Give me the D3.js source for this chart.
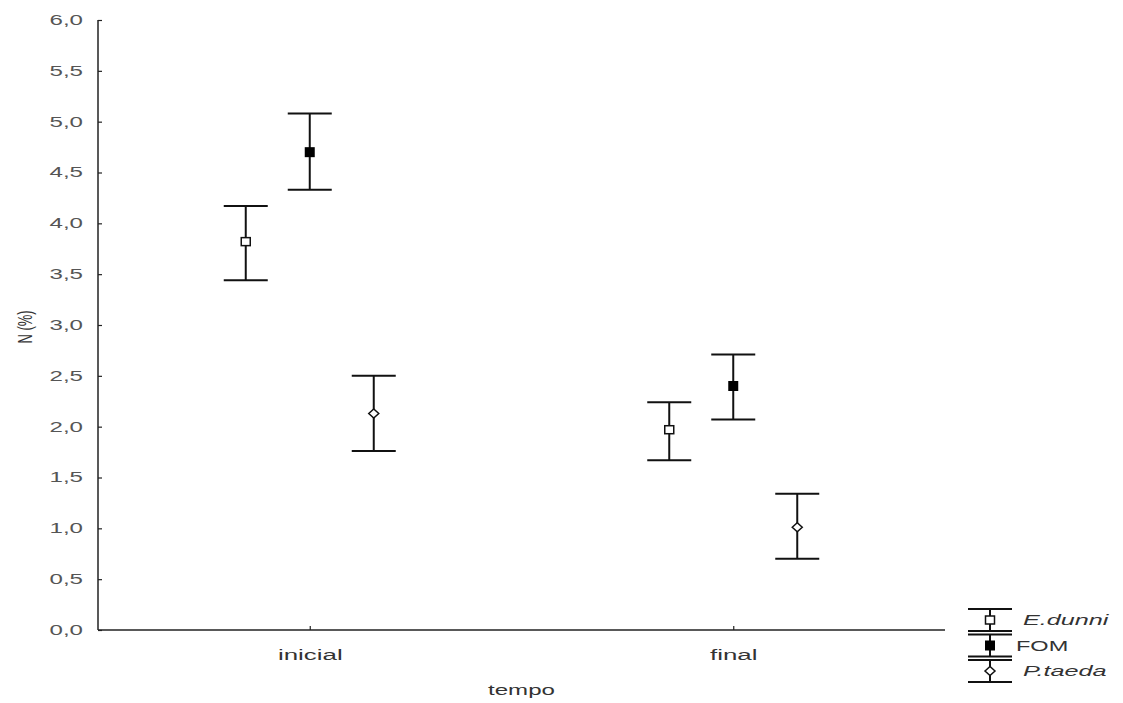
<!DOCTYPE html>
<html>
<head>
<meta charset="utf-8">
<script src="https://cdn.jsdelivr.net/npm/d3@7"></script>
<style>
  body { margin: 0; background: #fff; }
  text { font-family: "Liberation Sans", Arial, sans-serif; }
</style>
</head>
<body>
<div id="chart"></div>
<script>
// data
var tempos = ["inicial", "final"];
var especies = ["E.dunni", "FOM", "P.taeda"];
var media_ini = [3.82, 4.70, 2.13];
var media_fin = [1.97, 2.40, 1.01];
var sup_ini = [4.17, 5.08, 2.50];
var sup_fin = [2.24, 2.71, 1.34];
var inf_ini = [3.44, 4.33, 1.76];
var inf_fin = [1.67, 2.07, 0.70];
var y_ticks = [0, 0.5, 1, 1.5, 2, 2.5, 3, 3.5, 4, 4.5, 5, 5.5, 6];

var W = 1123, H = 703;
var m_left = 98, m_right = 945, m_top = 20, m_bottom = 630;

var svg = d3.select("#chart").append("svg").attr("width", W).attr("height", H);

var x = d3.scalePoint().domain(tempos).range([m_left, m_right]).padding(0.5);
var off = d3.scalePoint().domain(especies).range([-64, 64]);
var y = d3.scaleLinear().domain([0, 6]).range([m_bottom, m_top]);

var fmt = function(d) { return d3.format(".1f")(d).replace(".", ","); };

// the original text is stretched wide, mimic that
function stretch(sel, k) {
  sel.each(function() {
    var w = this.getComputedTextLength();
    d3.select(this).attr("textLength", w * k).attr("lengthAdjust", "spacingAndGlyphs");
  });
}

// y axis
var gy = svg.append("g").attr("transform", "translate(" + m_left + ",0)")
  .call(d3.axisRight(y).tickValues(y_ticks).tickSize(4).tickFormat(fmt));
gy.select(".domain").attr("stroke", "#222").attr("stroke-width", 1.5).attr("d", "M0," + m_top + "V" + m_bottom);
gy.selectAll(".tick line").attr("stroke", "#222").attr("stroke-width", 1.2);
gy.selectAll(".tick text").attr("x", -15).attr("text-anchor", "end")
  .style("font-size", "14px").attr("fill", "#555");
stretch(gy.selectAll(".tick text"), 1.72);

// x axis
var gx = svg.append("g").attr("transform", "translate(0," + m_bottom + ")")
  .call(d3.axisTop(x).tickSize(4));
gx.select(".domain").attr("stroke", "#222").attr("stroke-width", 1.5).attr("d", "M" + m_left + ",0H" + m_right);
gx.selectAll(".tick line").attr("stroke", "#222").attr("stroke-width", 1.2);
gx.selectAll(".tick text").attr("y", 30).attr("dy", 0)
  .style("font-size", "14px").attr("fill", "#333");
stretch(gx.selectAll(".tick text"), 1.85);

var xt = svg.append("text").attr("x", (m_left + m_right) / 2).attr("y", 695)
  .attr("text-anchor", "middle").style("font-size", "14px").attr("fill", "#333").text("tempo");
stretch(xt, 1.72);

svg.append("text").attr("transform", "translate(32,327) scale(1.6,1) rotate(-90)")
  .attr("text-anchor", "middle").style("font-size", "13px").attr("fill", "#333").text("N (%)");

// build rows
var rows = [];
tempos.forEach(function(t, i) {
  var m = i == 0 ? media_ini : media_fin;
  var s = i == 0 ? sup_ini : sup_fin;
  var n = i == 0 ? inf_ini : inf_fin;
  especies.forEach(function(e, j) {
    rows.push({tempo: t, esp: e, m: m[j], hi: s[j], lo: n[j]});
  });
});

function marker(g, esp) {
  if (esp == "E.dunni") {
    g.append("rect").attr("x", -4.5).attr("y", -4).attr("width", 9).attr("height", 8)
      .attr("fill", "#fff").attr("stroke", "#111").attr("stroke-width", 1.5);
  } else if (esp == "FOM") {
    g.append("rect").attr("x", -5).attr("y", -5).attr("width", 10).attr("height", 10)
      .attr("fill", "#000");
  } else {
    g.append("path").attr("d", "M-5,0L0,-4.5L5,0L0,4.5Z")
      .attr("fill", "#fff").attr("stroke", "#111").attr("stroke-width", 1.5);
  }
}

var cap = 22;
rows.forEach(function(d) {
  var cx = x(d.tempo) + off(d.esp);
  var g = svg.append("g");
  g.append("line").attr("x1", cx).attr("x2", cx).attr("y1", y(d.hi)).attr("y2", y(d.lo))
    .attr("stroke", "#111").attr("stroke-width", 2);
  g.append("line").attr("x1", cx - cap).attr("x2", cx + cap).attr("y1", y(d.hi)).attr("y2", y(d.hi))
    .attr("stroke", "#111").attr("stroke-width", 2);
  g.append("line").attr("x1", cx - cap).attr("x2", cx + cap).attr("y1", y(d.lo)).attr("y2", y(d.lo))
    .attr("stroke", "#111").attr("stroke-width", 2);
  var mk = g.append("g").attr("transform", "translate(" + cx + "," + y(d.m) + ")");
  marker(mk, d.esp);
});

// legend
var leg = svg.append("g").attr("transform", "translate(990,609)");
especies.forEach(function(e, j) {
  var gy0 = j * 25.5;
  var g = leg.append("g").attr("transform", "translate(0," + gy0 + ")");
  g.append("line").attr("x1", 0).attr("x2", 0).attr("y1", 0).attr("y2", 22).attr("stroke", "#111").attr("stroke-width", 2);
  g.append("line").attr("x1", -22).attr("x2", 22).attr("y1", 0).attr("y2", 0).attr("stroke", "#111").attr("stroke-width", 2);
  g.append("line").attr("x1", -22).attr("x2", 22).attr("y1", 22).attr("y2", 22).attr("stroke", "#111").attr("stroke-width", 2);
  var mk = g.append("g").attr("transform", "translate(0,11)");
  marker(mk, e);
  var t = g.append("text").attr("x", e == "FOM" ? 26 : 33).attr("y", 16)
    .style("font-size", "14px").style("font-style", e == "FOM" ? "normal" : "italic")
    .attr("fill", "#333").text(e);
  stretch(t, e == "FOM" ? 1.68 : 1.8);
});
</script>
</body>
</html>
